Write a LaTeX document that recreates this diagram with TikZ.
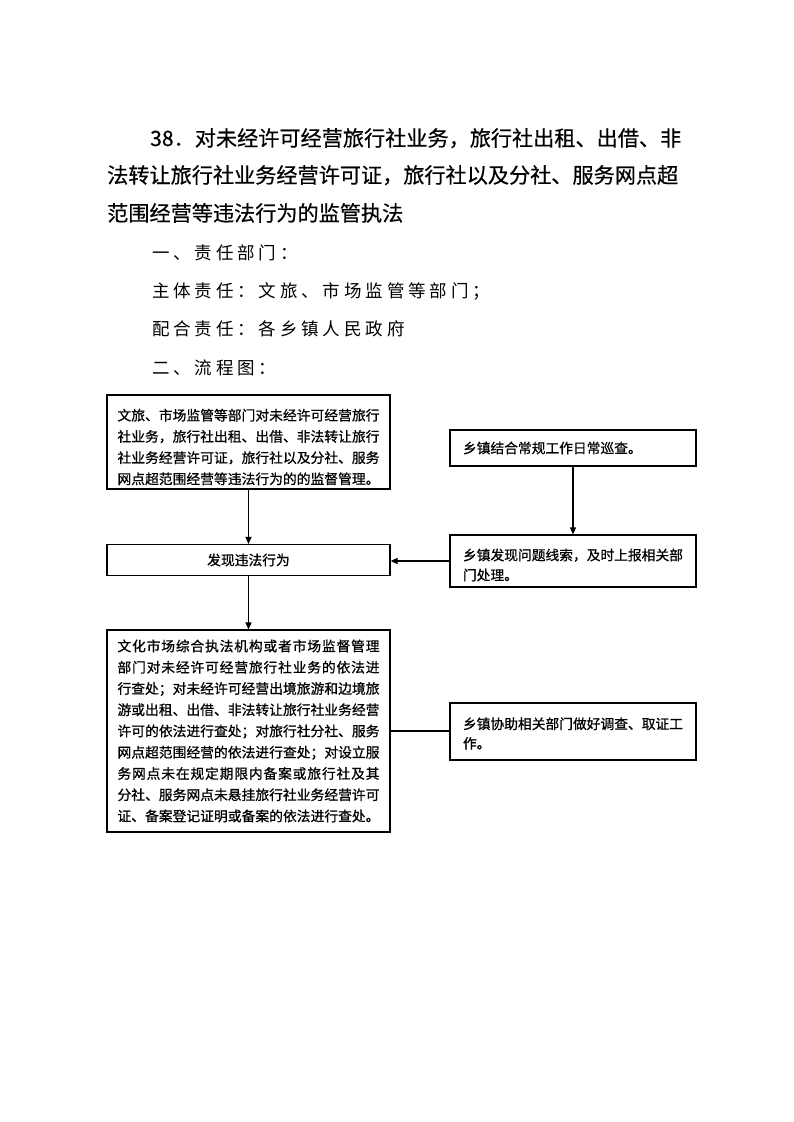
\documentclass[tikz,border=0pt]{standalone}
\usepackage{fontspec}
\setmainfont{Noto Sans CJK SC}
\newfontfamily\cjkls{Noto Sans CJK SC}[LetterSpace=22]
\newfontfamily\cjkbx{Noto Sans CJK SC}[FakeBold=0.8]
\newfontfamily\cjkti{Noto Sans CJK SC}[FakeBold=0.5]
\usetikzlibrary{arrows.meta}
\makeatletter
\newcommand\jl[2][262pt]{\hbox to #1{\@tfor\jx:=#2\do{\jx\hfil}\unskip}}
\makeatother
\tikzset{
  box/.style={draw, line width=1.2pt, inner sep=0pt, font=\cjkbx\fontsize{13.75}{21.2}\selectfont},
  arr/.style={-{Triangle[length=7pt,width=6pt]}, line width=1.2pt},
  link/.style={line width=1.2pt},
  title/.style={anchor=base west, inner sep=0pt, font=\cjkti\fontsize{21.15}{25}\selectfont},
  sub/.style={anchor=base west, inner sep=0pt, font=\cjkls\fontsize{17.5}{21}\selectfont}
}
\begin{document}
\begin{tikzpicture}[x=1pt,y=-1pt]
\useasboundingbox (0,0) rectangle (793,1122);
\fill[white] (0,0) rectangle (793,1122);
% title
\node[title] (t1) at (150,146) {38．对未经许可经营旅行社业务，旅行社出租、出借、非};
\node[title] (t2) at (107,183) {法转让旅行社业务经营许可证，旅行社以及分社、服务网点超};
\node[title] (t3) at (107,221) {范围经营等违法行为的监管执法};
\node[sub] (s1) at (152,259) {一、责任部门：};
\node[sub] (s2) at (152,297) {主体责任：文旅、市场监管等部门；};
\node[sub] (s3) at (152,335) {配合责任：各乡镇人民政府};
\node[sub] (s4) at (152,374) {二、流程图：};
% boxes
\node[box, minimum width=283pt, minimum height=94pt] (top) at (248.5,442) {\vbox{\kern10pt\baselineskip=21.2pt
\jl{文旅、市场监管等部门对未经许可经营旅行}
\jl{社业务，旅行社出租、出借、非法转让旅行}
\jl{社业务经营许可证，旅行社以及分社、服务}
\jl{网点超范围经营等违法行为的的监督管理。}}};
\node[box, minimum width=283pt, minimum height=31pt] (find) at (248.5,560) {发现违法行为};
\node[box, minimum width=283pt, minimum height=202pt] (big) at (248.5,731) {\vbox{\baselineskip=21.25pt
\jl{文化市场综合执法机构或者市场监督管理}
\jl{部门对未经许可经营旅行社业务的依法进}
\jl{行查处；对未经许可经营出境旅游和边境旅}
\jl{游或出租、出借、非法转让旅行社业务经营}
\jl{许可的依法进行查处；对旅行社分社、服务}
\jl{网点超范围经营的依法进行查处；对设立服}
\jl{务网点未在规定期限内备案或旅行社及其}
\jl{分社、服务网点未悬挂旅行社业务经营许可}
\jl{证、备案登记证明或备案的依法进行查处。}}};
\node[box, minimum width=246pt, minimum height=36pt] (patrol) at (573,448) {\hbox to 220pt{乡镇结合常规工作日常巡查。\hfil}};
\node[box, minimum width=246pt, minimum height=52pt] (report) at (573,561) {\vbox{\kern8pt\baselineskip=20pt
\jl[220pt]{乡镇发现问题线索，及时上报相关部}
\hbox to 220pt{门处理。\hfil}}};
\node[box, minimum width=246pt, minimum height=57pt] (assist) at (573,731.5) {\vbox{\kern4pt\baselineskip=19.5pt
\jl[220pt]{乡镇协助相关部门做好调查、取证工}
\hbox to 220pt{作。\hfil}}};
% connectors
\draw[arr] (top.south) -- (find.north);
\draw[arr] (find.south) -- (big.north);
\draw[arr] (patrol.south) -- (report.north);
\draw[arr] (report.west) -- (report.west -| find.east);
\draw[link] (big.east) -- (big.east -| assist.west);
\end{tikzpicture}
\end{document}
